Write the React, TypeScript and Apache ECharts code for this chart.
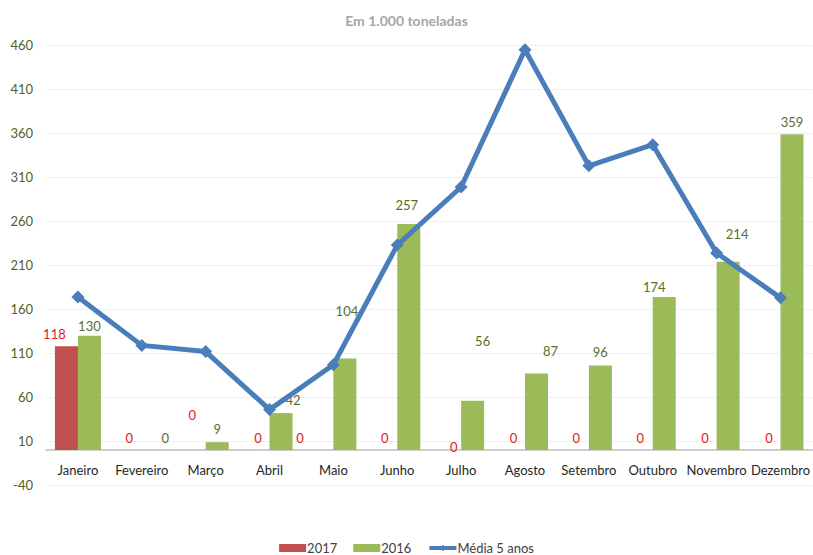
import React, { useEffect, useRef } from "react";
import * as echarts from "echarts";

const months = ["Janeiro", "Fevereiro", "Março", "Abril", "Maio", "Junho", "Julho", "Agosto", "Setembro", "Outubro", "Novembro", "Dezembro"];
const values2017 = [118, 0, 0, 0, 0, 0, 0, 0, 0, 0, 0, 0];
const values2016 = [130, 0, 9, 42, 104, 257, 56, 87, 96, 174, 214, 359];
const media5Anos = [174, 119, 112, 46, 97, 233, 299, 455, 323, 347, 224, 173];
const subtitle = "Em 1.000 toneladas";

// label nudges (style only), matching the hand-placed labels of the original
const nudge2017 = [[-12, -3], [-1, -3], [-2, -26], [0, -3], [-22, -3], [-1, -3], [4, 6], [0, -3], [-1, -3], [-1, -3], [0, -3], [0, -3]];
const nudge2016 = [[0, 0], [12, -3], [0, -4], [12, -4], [2, -38], [-2, -9], [10, -50], [14, -13], [0, -4], [-10, 0], [9, -18], [0, -3]];

const FONT = "Lato, 'Open Sans', sans-serif";

export default function App() {
  const ref = useRef<HTMLDivElement>(null);
  useEffect(() => {
    if (!ref.current) return;
    const chart = echarts.init(ref.current, undefined, { renderer: "svg" });
    chart.setOption({
      animation: false,
      backgroundColor: "#ffffff",
      textStyle: { fontFamily: FONT },
      title: {
        text: subtitle,
        left: "center",
        top: 8,
        textStyle: { fontSize: 14, fontWeight: "bold", color: "#A6A6A6", fontFamily: FONT },
      },
      legend: {
        top: 541,
        left: "center",
        padding: 0,
        itemWidth: 27,
        itemHeight: 8,
        itemGap: 16,
        textStyle: { fontSize: 13, lineHeight: 14, color: "#404040", fontFamily: FONT, padding: [0, 0, 0, -4] },
        data: [
          { name: "2017", icon: "rect" },
          { name: "2016", icon: "rect" },
          { name: "Média 5 anos", lineStyle: { width: 4 } },
        ],
      },
      grid: { left: 46, right: 0, top: 45.3, bottom: 69.7, containLabel: false },
      xAxis: {
        type: "category",
        data: months,
        axisTick: { show: false },
        axisLine: { onZero: true, lineStyle: { color: "#BFBFBF", width: 1.5 } },
        axisLabel: { interval: 0, margin: -22, fontSize: 13, color: "#262626", fontFamily: FONT },
      },
      yAxis: {
        type: "value",
        min: -40,
        max: 460,
        interval: 50,
        axisLine: { show: false },
        axisTick: { show: false },
        splitLine: { lineStyle: { color: "#EFEFEF", width: 1 } },
        axisLabel: { margin: 13, fontSize: 13, color: "#4F6228", fontFamily: FONT },
      },
      series: [
        {
          name: "2017",
          type: "bar",
          barWidth: 23,
          barGap: "0%",
          itemStyle: { color: "#C0504D" },
          label: { show: true, position: "top", distance: 3, fontSize: 13, color: "#E0201C", fontFamily: FONT },
          data: values2017.map((v, i) => ({ value: v, label: { offset: nudge2017[i] } })),
        },
        {
          name: "2016",
          type: "bar",
          barWidth: 23,
          barGap: "0%",
          itemStyle: { color: "#9BBB59" },
          label: { show: true, position: "top", distance: 3, fontSize: 13, color: "#5A6E2E", fontFamily: FONT },
          data: values2016.map((v, i) => ({ value: v, label: { offset: nudge2016[i] } })),
        },
        {
          name: "Média 5 anos",
          type: "line",
          z: 5,
          data: media5Anos,
          symbol: "diamond",
          symbolSize: 13,
          lineStyle: { color: "#4A7EBB", width: 5 },
          itemStyle: { color: "#4A7EBB" },
        },
      ],
    });
    return () => chart.dispose();
  }, []);
  return <div ref={ref} style={{ position: "fixed", left: 0, top: 0, width: 813, height: 555 }} />;
}
